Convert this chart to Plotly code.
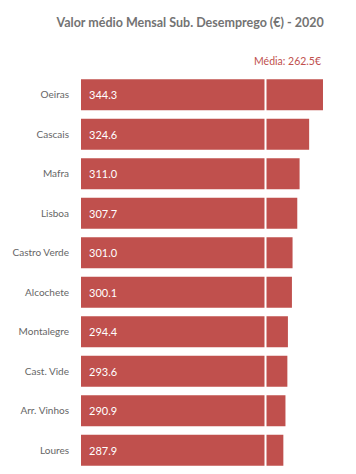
import plotly.graph_objects as go

categories = ["Oeiras", "Cascais", "Mafra", "Lisboa", "Castro Verde", "Alcochete",
              "Montalegre", "Cast. Vide", "Arr. Vinhos", "Loures"]
values = [344.3, 324.6, 311.0, 307.7, 301.0, 300.1, 294.4, 293.6, 290.9, 287.9]
mean_value = 262.5
title_text = "Valor médio Mensal Sub. Desemprego (€) - 2020"

bar_color = "#C0504D"
font_family = "Lato"

fig = go.Figure()
fig.add_trace(go.Bar(
    y=categories, x=values, orientation="h",
    marker=dict(color=bar_color, line=dict(width=0)),
    hoverinfo="skip",
))

for c, v in zip(categories, values):
    fig.add_annotation(x=0, y=c, xref="x", yref="y", xanchor="left", yanchor="middle",
                       xshift=6, text=f"{v:.1f}", showarrow=False,
                       font=dict(color="white", size=11, family=font_family))

fig.add_shape(type="line", xref="x", yref="paper", x0=mean_value, x1=mean_value,
              y0=0, y1=1, line=dict(color="white", width=2), layer="above")

fig.add_annotation(xref="paper", yref="paper", x=1.0, y=1.0, xanchor="right", yanchor="bottom",
                   yshift=6, xshift=-4,
                   text=f"Média: {mean_value}€", showarrow=False,
                   font=dict(color=bar_color, size=10.5, family=font_family))

fig.update_layout(
    width=356, height=474,
    margin=dict(l=81, r=29, t=75, b=4, autoexpand=False),
    paper_bgcolor="white", plot_bgcolor="white",
    title=dict(text=f"<b>{title_text}</b>", x=0.534, xanchor="center", y=0.953, yanchor="middle",
               font=dict(size=12.5, color="#737373", family=font_family)),
    bargap=0.21,
    showlegend=False,
    xaxis=dict(range=[0, 350], visible=False, fixedrange=True, automargin=False),
    yaxis=dict(autorange="reversed", showgrid=False, zeroline=False, showline=False,
               ticks="", ticklabelstandoff=11, automargin=False,
               tickfont=dict(size=10, color="#666666", family=font_family)),
)

fig.write_html("out.html", config={"displayModeBar": False},
               post_script="document.body.style.margin='0px';document.body.style.overflow='hidden';")
